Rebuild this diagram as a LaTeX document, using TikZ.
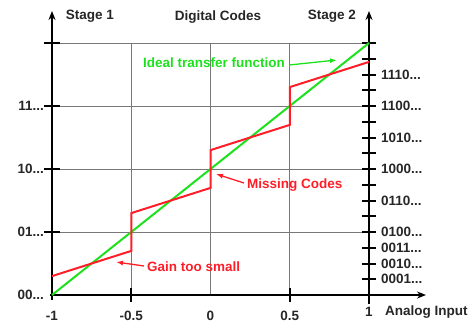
\documentclass[tikz,border=0pt]{standalone}
\usepackage{fontspec}
\setmainfont{Liberation Sans}
\usetikzlibrary{arrows.meta}
\definecolor{cred}{RGB}{255,30,40}
\definecolor{cgreen}{RGB}{30,225,30}
\definecolor{cgrid}{RGB}{120,120,120}
\tikzset{
  lbl/.style={font=\fontsize{13.5}{15}\selectfont\bfseries, text=black!85, inner sep=0pt},
  axis/.style={line width=2.2pt, black},
  tick/.style={line width=2pt, black},
  gridl/.style={line width=0.8pt, cgrid},
  note/.style={font=\fontsize{13.5}{15}\selectfont\bfseries, inner sep=0pt},
  ann/.style={line width=1.3pt, -{Latex[length=7pt,width=5pt]}},
}
\begin{document}
\begin{tikzpicture}[x=1pt,y=-1pt]
\useasboundingbox (0,0) rectangle (474,322);
% grid
\foreach \yy in {43,106,169,232} \draw[gridl] (52,\yy) -- (369,\yy);
\foreach \xx in {131.25,210.5,289.75} \draw[gridl] (\xx,43) -- (\xx,295);
% axes
\coordinate (o) at (52,295);
\coordinate (ltop) at (52,11);
\coordinate (rbot) at (369,304);
\coordinate (rtop) at (369,11);
\coordinate (xend) at (426,295);
\draw[axis,-{Stealth[length=9pt,width=7pt]}] (52,300) -- (ltop);
\draw[axis,-{Stealth[length=9pt,width=7pt]}] (rbot) -- (rtop);
\draw[axis,-{Stealth[length=9pt,width=7pt]}] (50,295) -- (xend);
% left ticks
\foreach \yy in {43,106,169,232} \draw[tick] (44,\yy) -- (60,\yy);
% right ticks
\foreach \k in {1,...,16} \draw[tick] (362,{295-\k*15.75}) -- (376,{295-\k*15.75});
% bottom ticks
\foreach \xx in {131.25,289.75} \draw[tick] (\xx,288) -- (\xx,302);
% ideal
\draw[line width=2pt, cgreen] (o) -- (369,43);
% real
\draw[line width=2pt, cred, line join=miter]
  (52,276.1) -- (131.25,250.9) -- (131.25,213.1) -- (210.5,187.9) -- (210.5,150.1)
  -- (289.75,124.9) -- (289.75,87.1) -- (369,61.9);
% titles
\node[lbl] (s1) at (90,16) {Stage 1};
\node[lbl] (dc) at (218,17) {Digital Codes};
\node[lbl] (s2) at (332,16) {Stage 2};
% left labels
\node[lbl, anchor=east] (l11) at (44,106) {11...};
\node[lbl, anchor=east] (l10) at (44,169) {10...};
\node[lbl, anchor=east] (l01) at (44,232) {01...};
\node[lbl, anchor=east] (l00) at (44,295) {00...};
% right labels
\foreach \k/\t in {14/1110,12/1100,10/1010,8/1000,6/0110,4/0100,3/0011,2/0010,1/0001}
  \node[lbl, anchor=west] (r\k) at (381,{295-\k*15.75}) {\t...};
% bottom labels
\node[lbl] (xm1) at (52,316) {-1};
\node[lbl] (xm05) at (131.25,316) {-0.5};
\node[lbl] (x0) at (210.5,316) {0};
\node[lbl] (x05) at (289.75,316) {0.5};
\node[lbl] (x1) at (369,312) {1};
\node[lbl, anchor=west] (ai) at (385,312) {Analog Input};
% annotations
\node[note, text=cgreen, anchor=west] (itf) at (143,63) {Ideal transfer function};
\coordinate (itft) at (337,60);
\draw[ann, cgreen] (itf.east) ++(4,2) -- (itft);
\node[note, text=cred, anchor=west] (mc) at (247,185) {Missing Codes};
\coordinate (mct) at (216,174);
\draw[ann, cred] (mc.west) ++(-3,-2) -- (mct);
\node[note, text=cred, anchor=west] (gts) at (147,267) {Gain too small};
\coordinate (gtst) at (116,262);
\draw[ann, cred] (gts.west) ++(-3,-1) -- (gtst);
\end{tikzpicture}
\end{document}
